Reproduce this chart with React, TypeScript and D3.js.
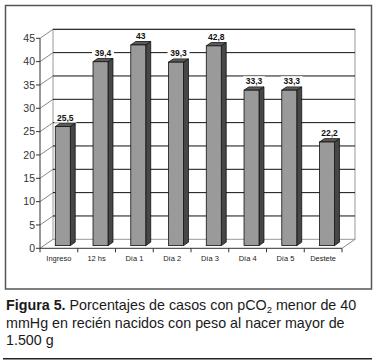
import React from "react";
import * as d3 from "d3";

const categories = ["Ingreso", "12 hs", "Día 1", "Día 2", "Día 3", "Día 4", "Día 5", "Destete"];
const values = [25.5, 39.4, 43, 39.3, 42.8, 33.3, 33.3, 22.2];
const valueLabels = ["25,5", "39,4", "43", "39,3", "42,8", "33,3", "33,3", "22,2"];
const yTicks = [0, 5, 10, 15, 20, 25, 30, 35, 40, 45];

const W = 378;
const H = 364;
const X0 = 40;
const X1 = 342;
const DX = 13;
const DY = -9;
const BAR_W = 15;
const DF = 0.3;
const DB = 0.68;

export default function App() {
  const x = d3.scaleBand<string>().domain(categories).range([X0, X1]);
  const y = d3.scaleLinear().domain([0, 45]).range([248.3, 38.3]);
  const font = "'Liberation Sans', Arial, sans-serif";

  return (
    <svg width={W} height={H} style={{ position: "absolute", left: 0, top: 0, background: "#fff" }}>
      <rect x={0} y={0} width={W} height={H} fill="#fff" />
      {/* frame */}
      <rect x={5.5} y={5.5} width={366} height={283.5} fill="none" stroke="#555" strokeWidth={1.5} />
      {/* back wall */}
      <rect x={X0 + DX} y={y(45) + DY} width={X1 - X0} height={y(0) - y(45)} fill="none" stroke="#999" strokeWidth={1} />
      {yTicks.map((t) => (
        <g key={"g" + t}>
          {t > 0 && (
            <line x1={X0 + DX} x2={X1 + DX} y1={y(t) + DY} y2={y(t) + DY} stroke="#111" strokeWidth={1} />
          )}
          <line x1={X0} x2={X0 + DX} y1={y(t)} y2={y(t) + DY} stroke="#888" strokeWidth={1} />
          <line x1={X0 - 4} x2={X0} y1={y(t)} y2={y(t)} stroke="#333" strokeWidth={1} />
          <text x={35} y={y(t) + 3.8} textAnchor="end" fontFamily={font} fontSize={10.5} fill="#333">
            {t}
          </text>
        </g>
      ))}
      {/* floor */}
      <line x1={X1} x2={X1 + DX} y1={y(0)} y2={y(0) + DY} stroke="#888" strokeWidth={1} />
      {/* axes */}
      <line x1={X0} x2={X0} y1={y(45)} y2={y(0)} stroke="#333" strokeWidth={1} />
      <line x1={X0} x2={X1} y1={y(0)} y2={y(0)} stroke="#333" strokeWidth={1} />
      {categories.map((c) => (
        <line key={"t" + c} x1={x(c)!} x2={x(c)!} y1={y(0)} y2={y(0) + 4} stroke="#333" strokeWidth={1} />
      ))}
      <line x1={X1} x2={X1} y1={y(0)} y2={y(0) + 4} stroke="#333" strokeWidth={1} />
      {/* bars */}
      {categories.map((c, i) => {
        const cx = x(c)! + x.bandwidth() / 2;
        const fl = cx - BAR_W / 2 + DF * DX;
        const fr = fl + BAR_W;
        const ft = y(values[i]) + DF * DY;
        const fb = y(0) + DF * DY;
        const ox = (DB - DF) * DX;
        const oy = (DB - DF) * DY;
        const top = `${fl},${ft} ${fl + ox},${ft + oy} ${fr + ox},${ft + oy} ${fr},${ft}`;
        const side = `${fr},${ft} ${fr + ox},${ft + oy} ${fr + ox},${fb + oy} ${fr},${fb}`;
        const lx = (fl + fr) / 2 + ox / 2;
        const ly = ft + oy - 5.5;
        const lw = valueLabels[i].length * 5 + 2;
        return (
          <g key={"b" + c}>
            <polygon points={side} fill="#474747" stroke="#111" strokeWidth={0.8} />
            <polygon points={top} fill="#5a5a5a" stroke="#111" strokeWidth={0.8} />
            <rect x={fl} y={ft} width={BAR_W} height={fb - ft} fill="#9a9a9a" stroke="#111" strokeWidth={0.8} />
            <rect x={lx - lw / 2} y={ly - 5} width={lw} height={10} fill="#fff" />
            <text x={lx} y={ly + 3} textAnchor="middle" fontFamily={font} fontSize={8.5} fontWeight="bold" fill="#111">
              {valueLabels[i]}
            </text>
          </g>
        );
      })}
      {/* x labels */}
      {categories.map((c) => (
        <text key={"l" + c} x={x(c)! + x.bandwidth() / 2} y={261} textAnchor="middle" fontFamily={font} fontSize={7.5} fill="#222">
          {c}
        </text>
      ))}
      {/* caption */}
      <g fontFamily={font} fontSize={14.3} fill="#1a1a1a">
        <text x={6} y={310}>
          <tspan fontWeight="bold">Figura 5.</tspan> Porcentajes de casos con pCO
          <tspan fontSize={9.5} dy={3}>2</tspan>
          <tspan dy={-3}> menor de 40</tspan>
        </text>
        <text x={6} y={327.5}>mmHg en recién nacidos con peso al nacer mayor de</text>
        <text x={6} y={345}>1.500 g</text>
      </g>
      <line x1={3} x2={372} y1={358.7} y2={358.7} stroke="#222" strokeWidth={1.5} />
    </svg>
  );
}
